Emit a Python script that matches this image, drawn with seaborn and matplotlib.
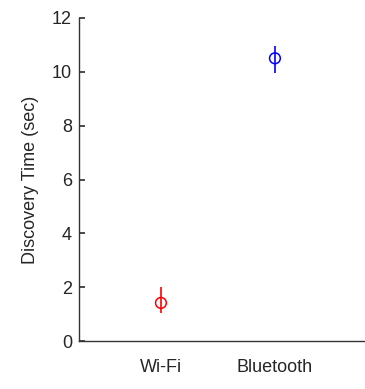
import numpy as np
import pandas as pd
import matplotlib
matplotlib.use("Agg")
import matplotlib.pyplot as plt
import seaborn as sns

# values
categories = ["Wi-Fi", "Bluetooth"]
mean_time = [1.42, 10.5]
err_low = [0.38, 0.56]
err_high = [0.58, 0.46]
colors = ["red", "blue"]
y_ticks = [0, 2, 4, 6, 8, 10, 12]

sns.set_theme(style="ticks")
plt.rcParams["font.family"] = ["Liberation Sans", "DejaVu Sans"]

df = pd.DataFrame({"tech": categories, "time": mean_time,
                   "pos": np.arange(1, len(categories) + 1)})

fig = plt.figure(figsize=(3.65, 3.89), dpi=100)
ax = fig.add_axes([0.216, 0.123, 0.784, 0.831])

# error bars first, then open circles on top
for i, row in df.iterrows():
    ax.errorbar(row["pos"], row["time"],
                yerr=[[err_low[i]], [err_high[i]]],
                fmt="none", ecolor=colors[i], elinewidth=1.2, capsize=0)
sns.scatterplot(data=df, x="pos", y="time", hue="tech", palette=colors,
                marker="o", s=60, linewidth=1.1, legend=False, ax=ax)
for coll in ax.collections:
    fc = coll.get_facecolors()
    if len(fc):
        coll.set_edgecolors(fc)
        coll.set_facecolors("none")

ax.set_xlim(0.28, 2.79)
ax.set_ylim(0, 12)
ax.set_yticks(y_ticks)
ax.set_xticks(df["pos"])
ax.set_xticklabels(categories)
ax.set_xlabel("")
ax.set_ylabel("Discovery Time (sec)", fontsize=13, labelpad=9)
ax.tick_params(axis="y", direction="in", length=4, labelsize=13, pad=5,
               color="#333333")
ax.tick_params(axis="x", length=0, labelsize=13, pad=13)
sns.despine(ax=ax)
for s in ["left", "bottom"]:
    ax.spines[s].set_color("#333333")
    ax.spines[s].set_linewidth(1.0)

fig.savefig("out.png", dpi=100)
